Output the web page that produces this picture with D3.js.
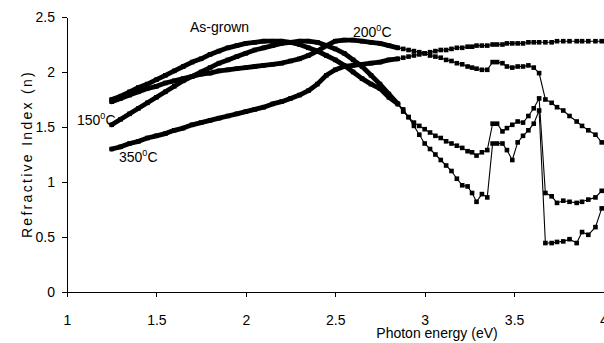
<!DOCTYPE html>
<html>
<head>
<meta charset="utf-8">
<script src="https://cdn.jsdelivr.net/npm/d3@7"></script>
<style>
  body { margin: 0; background: #fff; }
  svg { display: block; }
  text { font-family: "Liberation Sans", Arial, sans-serif; fill: #000; }
</style>
</head>
<body>
<svg id="chart" width="604" height="343"></svg>
<script>
// Photon energy grid (eV); dense below ~2.85 eV, where the markers run together
const energy = [
  1.25,1.30,1.35,1.40,1.45,1.50,1.55,1.60,1.65,1.70,1.75,1.80,1.85,1.90,1.95,2.00,2.05,
  2.10,2.15,2.20,2.25,2.30,2.35,2.40,2.45,2.50,2.55,2.60,2.65,2.70,2.75,2.80,2.85,
  2.88,2.91,2.94,2.97,3.00,3.03,3.06,3.09,3.12,3.15,3.18,3.21,3.24,3.265,3.29,3.32,3.35,
  3.38,3.405,3.435,3.46,3.49,3.52,3.55,3.58,3.61,3.64,3.675,3.71,3.74,3.775,3.81,3.85,
  3.88,3.915,3.955,3.99
];

// Refractive index n for each film
const nAsGrown = [
  1.75,1.78,1.82,1.86,1.89,1.93,1.97,2.01,2.05,2.09,2.12,2.16,2.19,2.22,2.24,2.26,2.27,
  2.28,2.28,2.28,2.27,2.25,2.22,2.19,2.15,2.11,2.06,2.00,1.94,1.89,1.85,1.77,1.71,
  1.66,1.59,1.54,1.51,1.48,1.45,1.42,1.40,1.37,1.35,1.33,1.31,1.28,1.27,1.24,1.27,1.29,
  1.53,1.53,1.46,1.49,1.52,1.55,1.54,1.60,1.67,1.76,0.90,0.87,0.81,0.83,0.82,0.81,
  0.82,0.84,0.86,0.92
];
const n150 = [
  1.52,1.57,1.62,1.67,1.72,1.77,1.82,1.87,1.92,1.96,2.00,2.04,2.08,2.11,2.14,2.17,2.20,
  2.22,2.24,2.26,2.27,2.28,2.28,2.27,2.24,2.21,2.17,2.11,2.05,1.97,1.89,1.80,1.71,
  1.64,1.59,1.51,1.43,1.35,1.30,1.25,1.20,1.15,1.10,1.03,0.97,0.96,0.90,0.82,0.89,0.86,
  1.35,1.35,1.35,1.29,1.20,1.36,1.42,1.47,1.53,1.65,0.445,0.445,0.455,0.46,0.48,0.445,
  0.545,0.52,0.59,0.76
];
const n200 = [
  1.73,1.76,1.79,1.82,1.85,1.87,1.90,1.92,1.94,1.96,1.98,1.99,2.01,2.02,2.03,2.04,2.05,
  2.06,2.07,2.08,2.10,2.12,2.15,2.19,2.24,2.28,2.29,2.29,2.28,2.27,2.26,2.24,2.22,
  2.21,2.20,2.19,2.18,2.17,2.15,2.14,2.13,2.11,2.10,2.08,2.07,2.05,2.04,2.03,2.02,2.02,
  2.09,2.09,2.08,2.05,2.04,2.05,2.05,2.06,2.04,1.99,1.75,1.72,1.68,1.65,1.60,1.55,
  1.51,1.47,1.43,1.36
];
const n350 = [
  1.30,1.32,1.35,1.37,1.40,1.42,1.44,1.47,1.49,1.52,1.54,1.56,1.58,1.60,1.62,1.64,1.66,
  1.68,1.71,1.73,1.76,1.79,1.83,1.89,1.97,2.02,2.05,2.06,2.07,2.08,2.09,2.11,2.12,
  2.13,2.14,2.15,2.16,2.17,2.18,2.19,2.20,2.20,2.21,2.22,2.22,2.23,2.23,2.24,2.24,2.24,
  2.25,2.25,2.25,2.26,2.26,2.26,2.26,2.27,2.27,2.27,2.27,2.27,2.28,2.28,2.28,2.28,
  2.28,2.28,2.28,2.28
];

const xTicks = [1, 1.5, 2, 2.5, 3, 3.5, 4];
const yTicks = [0, 0.5, 1, 1.5, 2, 2.5];
const denseLimit = 2.85;

const svg = d3.select("#chart");
const x = d3.scaleLinear().domain([1, 4]).range([67, 603.5]);
const y = d3.scaleLinear().domain([0, 2.5]).range([292, 17]);

// Axes
const fmt = d => String(d);
const gx = svg.append("g").attr("transform", "translate(0,292)")
  .call(d3.axisBottom(x).tickValues(xTicks).tickFormat(fmt)
    .tickSize(5).tickSizeOuter(0).tickPadding(18));
const gy = svg.append("g").attr("transform", "translate(67,0)")
  .call(d3.axisLeft(y).tickValues(yTicks).tickFormat(fmt)
    .tickSize(5).tickSizeOuter(0).tickPadding(7));
[gx, gy].forEach(g => {
  g.selectAll("path, line").attr("stroke", "#000").attr("stroke-width", 1).attr("shape-rendering", "crispEdges");
  g.selectAll("text").attr("font-size", 14).attr("font-family", '"Liberation Sans", Arial, sans-serif').attr("fill", "#000");
});

// Axis titles
svg.append("text")
  .attr("x", 437).attr("y", 338)
  .attr("text-anchor", "middle").attr("font-size", 14)
  .text("Photon energy (eV)");
svg.append("text")
  .attr("transform", "translate(32,154) rotate(-90)")
  .attr("text-anchor", "middle").attr("font-size", 14)
  .attr("letter-spacing", 2.3)
  .text("Refractive Index (n)");

// Curves
const series = [nAsGrown, n150, n200, n350];
const line = d3.line().x(d => x(d[0])).y(d => y(d[1]));

series.forEach(vals => {
  const pts = energy.map((e, i) => [e, vals[i]]);
  const dense = pts.filter(p => p[0] <= denseLimit);
  svg.append("path").datum(pts).attr("d", line)
    .attr("fill", "none").attr("stroke", "#000").attr("stroke-width", 1.1);
  svg.append("path").datum(dense).attr("d", line)
    .attr("fill", "none").attr("stroke", "#000").attr("stroke-width", 4.8)
    .attr("stroke-linejoin", "round").attr("stroke-linecap", "round");
  svg.append("g").selectAll("rect").data(pts).join("rect")
    .attr("x", d => x(d[0]) - 2.3).attr("y", d => y(d[1]) - 2.3)
    .attr("width", 4.6).attr("height", 4.6).attr("fill", "#000");
});

// Curve labels
function tempLabel(xp, yp, num) {
  const t = svg.append("text").attr("x", xp).attr("y", yp).attr("font-size", 14);
  t.append("tspan").text(num);
  t.append("tspan").attr("font-size", 9).attr("dy", -6).text("0");
  t.append("tspan").attr("dy", 6).text("C");
}
svg.append("text").attr("x", 190).attr("y", 32).attr("font-size", 14).text("As-grown");
tempLabel(353, 37, "200");
tempLabel(77, 125, "150");
tempLabel(119, 162, "350");
</script>
</body>
</html>
